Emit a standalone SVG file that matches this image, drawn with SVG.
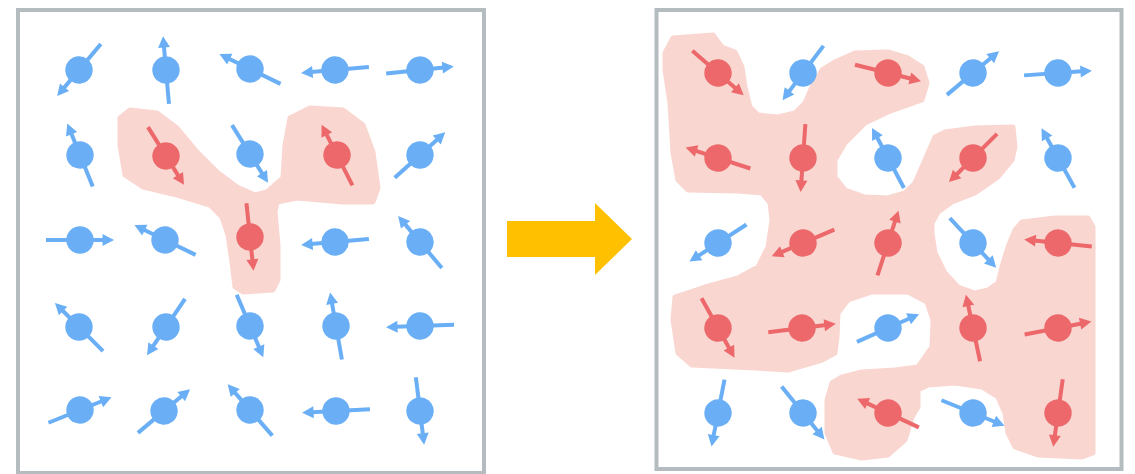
<svg xmlns="http://www.w3.org/2000/svg" xmlns:xlink="http://www.w3.org/1999/xlink" width="1135" height="474" viewBox="0 0 1135 474">
  <style>
    .frame { fill: #ffffff; stroke: #b4bcc0; stroke-width: 4; }
    .domain { fill: #f9d6d0; stroke: #f9d6d0; stroke-width: 5; stroke-linejoin: round; }
    .blue { fill: #6aaff5; stroke: #6aaff5; }
    .red { fill: #ec686a; stroke: #ec686a; }
    .shaft { stroke-width: 4; }
    .head, .ball { stroke: none; }
  </style>
  <defs>
    <!-- spin pointing along +x: shaft, ball and arrowhead -->
    <g id="spin-blue" class="blue">
      <line class="shaft" x1="-34" y1="0" x2="24" y2="0"/>
      <circle class="ball" r="13.7"/>
      <polygon class="head" points="22.5,-6 34,0 22.5,6"/>
    </g>
    <g id="spin-red" class="red">
      <line class="shaft" x1="-34" y1="0" x2="24" y2="0"/>
      <circle class="ball" r="13.7"/>
      <polygon class="head" points="22.5,-6 34,0 22.5,6"/>
    </g>
  </defs>

  <rect width="1135" height="474" fill="#ffffff"/>

  <!-- left lattice: a single small flipped cluster -->
  <g id="panel-before">
    <rect class="frame" x="18" y="10" width="466" height="463"/>
    <polygon id="cluster-small" class="domain" points="120,118 130,110 157,113 177,128 197,152 217,172 237,187 255,195 267,192 283,178 285,145 290,118 310,108 343,110 363,125 373,152 378,188 373,202 343,202 297,198 277,202 275,212 278,245 278,280 273,290 243,292 235,287 232,262 228,235 222,217 210,205 177,195 143,187 125,175 120,145"/>
    <g id="L11" transform="translate(79 70) rotate(130)"><use href="#spin-blue"/></g>
    <g id="L12" transform="translate(166 70) rotate(-95)"><use href="#spin-blue"/></g>
    <g id="L13" transform="translate(250 69) rotate(-154)"><use href="#spin-blue"/></g>
    <g id="L14" transform="translate(335 70) rotate(175)"><use href="#spin-blue"/></g>
    <g id="L15" transform="translate(420 70) rotate(-6)"><use href="#spin-blue"/></g>

    <g id="L21" transform="translate(80 155) rotate(-112)"><use href="#spin-blue"/></g>
    <g id="L22" transform="translate(166 156) rotate(58)"><use href="#spin-red"/></g>
    <g id="L23" transform="translate(250 154) rotate(58)"><use href="#spin-blue"/></g>
    <g id="L24" transform="translate(337 155) rotate(-117)"><use href="#spin-red"/></g>
    <g id="L25" transform="translate(420 155) rotate(-42)"><use href="#spin-blue"/></g>

    <g id="L31" transform="translate(80 240) rotate(0)"><use href="#spin-blue"/></g>
    <g id="L32" transform="translate(165 240) rotate(-154)"><use href="#spin-blue"/></g>
    <g id="L33" transform="translate(250 237) rotate(84)"><use href="#spin-red"/></g>
    <g id="L34" transform="translate(335 242) rotate(175)"><use href="#spin-blue"/></g>
    <g id="L35" transform="translate(420 242) rotate(-130)"><use href="#spin-blue"/></g>

    <g id="L41" transform="translate(79 327) rotate(-135)"><use href="#spin-blue"/></g>
    <g id="L42" transform="translate(166 327) rotate(124)"><use href="#spin-blue"/></g>
    <g id="L43" transform="translate(250 326) rotate(67)"><use href="#spin-blue"/></g>
    <g id="L44" transform="translate(336 326) rotate(-100)"><use href="#spin-blue"/></g>
    <g id="L45" transform="translate(420 326) rotate(178)"><use href="#spin-blue"/></g>

    <g id="L51" transform="translate(80 410) rotate(-22)"><use href="#spin-blue"/></g>
    <g id="L52" transform="translate(164 411) rotate(-40)"><use href="#spin-blue"/></g>
    <g id="L53" transform="translate(250 410) rotate(-131)"><use href="#spin-blue"/></g>
    <g id="L54" transform="translate(336 411) rotate(177)"><use href="#spin-blue"/></g>
    <g id="L55" transform="translate(420 411) rotate(83)"><use href="#spin-blue"/></g>
  </g>

  <!-- transition arrow -->
  <g id="connectors">
    <polygon points="507,221 595,221 595,203 632,239 595,275 595,257 507,257" fill="#ffc000"/>
  </g>

  <!-- right lattice: the flipped domain has spread -->
  <g id="panel-after">
    <rect class="frame" x="656.5" y="10" width="465" height="459"/>
    <polygon id="cluster-large" class="domain" points="665,53 673,38 713,35 722,47 735,52 742,67 745,87 750,107 758,115 778,117 795,113 805,103 812,87 822,70 835,62 855,53 888,52 908,58 922,67 927,83 922,100 908,105 888,112 865,123 845,143 835,160 835,177 845,190 865,197 888,198 905,193 915,183 925,160 935,137 945,132 975,128 1013,127 1015,147 1012,160 998,177 975,193 952,202 938,212 932,223 932,233 935,253 945,273 958,287 975,293 988,290 998,283 1002,267 1008,247 1015,230 1022,222 1055,218 1088,218 1093,227 1093,453 1082,457 1038,455 1015,447 1008,433 1005,413 998,397 982,387 955,383 928,385 918,390 918,407 912,417 905,440 888,455 862,458 835,452 827,433 827,400 832,383 842,377 862,372 895,370 918,367 932,347 933,320 927,302 908,292 872,292 848,300 838,313 837,337 835,353 822,360 805,365 788,370 755,368 692,365 678,353 673,320 675,297 705,287 738,278 758,267 768,247 772,220 770,203 762,193 738,191 688,190 678,180 673,153 670,103 665,70"/>
    <g id="R11" transform="translate(718 73) rotate(41)"><use href="#spin-red"/></g>
    <g id="R12" transform="translate(803 73) rotate(127)"><use href="#spin-blue"/></g>
    <g id="R13" transform="translate(888 73) rotate(14)"><use href="#spin-red"/></g>
    <g id="R14" transform="translate(973 73) rotate(-40)"><use href="#spin-blue"/></g>
    <g id="R15" transform="translate(1058 73) rotate(-4)"><use href="#spin-blue"/></g>

    <g id="R21" transform="translate(718 158) rotate(-162)"><use href="#spin-red"/></g>
    <g id="R22" transform="translate(803 158) rotate(94)"><use href="#spin-red"/></g>
    <g id="R23" transform="translate(888 158) rotate(-118)"><use href="#spin-blue"/></g>
    <g id="R24" transform="translate(973 158) rotate(135)"><use href="#spin-red"/></g>
    <g id="R25" transform="translate(1058 158) rotate(-119)"><use href="#spin-blue"/></g>

    <g id="R31" transform="translate(718 243) rotate(147)"><use href="#spin-blue"/></g>
    <g id="R32" transform="translate(803 243) rotate(157)"><use href="#spin-red"/></g>
    <g id="R33" transform="translate(888 243) rotate(-72)"><use href="#spin-red"/></g>
    <g id="R34" transform="translate(973 243) rotate(47)"><use href="#spin-blue"/></g>
    <g id="R35" transform="translate(1058 243) rotate(-174)"><use href="#spin-red"/></g>

    <g id="R41" transform="translate(718 328) rotate(61)"><use href="#spin-red"/></g>
    <g id="R42" transform="translate(802 328) rotate(-7)"><use href="#spin-red"/></g>
    <g id="R43" transform="translate(888 328) rotate(-24)"><use href="#spin-blue"/></g>
    <g id="R44" transform="translate(973 328) rotate(-102)"><use href="#spin-red"/></g>
    <g id="R45" transform="translate(1058 328) rotate(-11)"><use href="#spin-red"/></g>

    <g id="R51" transform="translate(718 413) rotate(101)"><use href="#spin-blue"/></g>
    <g id="R52" transform="translate(803 413) rotate(51)"><use href="#spin-blue"/></g>
    <g id="R53" transform="translate(888 413) rotate(-155)"><use href="#spin-red"/></g>
    <g id="R54" transform="translate(973 413) rotate(22)"><use href="#spin-blue"/></g>
    <g id="R55" transform="translate(1058 413) rotate(98)"><use href="#spin-red"/></g>
  </g>
</svg>
